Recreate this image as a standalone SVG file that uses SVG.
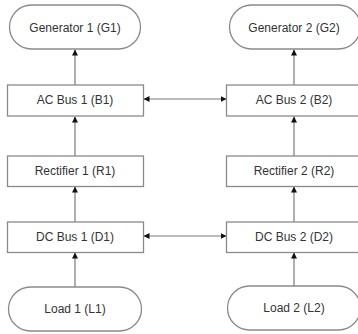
<svg xmlns="http://www.w3.org/2000/svg" width="358" height="334" viewBox="0 0 358 334">
<style>
.n{fill:#fff;stroke:#8a8a8a;stroke-width:1.3}
.t{font-family:"Liberation Sans",Arial,sans-serif;font-size:12px;fill:#333;text-anchor:middle;dominant-baseline:central}
.c{stroke:#7a7a7a;stroke-width:1.2;fill:none}
</style>
<defs>
<marker id="ah" viewBox="0 0 10 10" refX="10" refY="5" markerWidth="6" markerHeight="6" markerUnits="userSpaceOnUse" orient="auto-start-reverse">
<path d="M0,0 L10,5 L0,10 Z" fill="#111"/>
</marker>
</defs>
<rect width="358" height="334" fill="#fff"/>
<g id="connectors">
<line class="c" x1="75" y1="85" x2="75" y2="49.5" marker-end="url(#ah)"/>
<line class="c" x1="294" y1="85" x2="294" y2="49.5" marker-end="url(#ah)"/>
<line class="c" x1="75" y1="156" x2="75" y2="116.5" marker-end="url(#ah)"/>
<line class="c" x1="294" y1="156" x2="294" y2="116.5" marker-end="url(#ah)"/>
<line class="c" x1="75" y1="222" x2="75" y2="186.5" marker-end="url(#ah)"/>
<line class="c" x1="294" y1="222" x2="294" y2="186.5" marker-end="url(#ah)"/>
<line class="c" x1="75" y1="287" x2="75" y2="252.5" marker-end="url(#ah)"/>
<line class="c" x1="294" y1="286" x2="294" y2="252.5" marker-end="url(#ah)"/>
<line class="c" x1="143.5" y1="99" x2="226.5" y2="99" marker-start="url(#ah)" marker-end="url(#ah)"/>
<line class="c" x1="143.5" y1="236" x2="226.5" y2="236" marker-start="url(#ah)" marker-end="url(#ah)"/>
</g>
<g id="G1"><rect class="n" x="9.5" y="5" width="131" height="44" rx="22" ry="22"/><text class="t" x="75" y="28">Generator 1 (G1)</text></g>
<g id="G2"><rect class="n" x="229.5" y="5" width="131" height="44" rx="22" ry="22"/><text class="t" x="294" y="28">Generator 2 (G2)</text></g>
<g id="B1"><rect class="n" x="7.5" y="85" width="136" height="31"/><text class="t" x="75" y="100">AC Bus 1 (B1)</text></g>
<g id="B2"><rect class="n" x="226.5" y="85" width="136" height="31"/><text class="t" x="294" y="100">AC Bus 2 (B2)</text></g>
<g id="R1"><rect class="n" x="7.5" y="156" width="136" height="30.5"/><text class="t" x="75" y="171">Rectifier 1 (R1)</text></g>
<g id="R2"><rect class="n" x="226.5" y="156" width="136" height="30.5"/><text class="t" x="294" y="171">Rectifier 2 (R2)</text></g>
<g id="D1"><rect class="n" x="7.5" y="222" width="136" height="30.5"/><text class="t" x="75" y="237">DC Bus 1 (D1)</text></g>
<g id="D2"><rect class="n" x="226.5" y="222" width="136" height="30.5"/><text class="t" x="294" y="237">DC Bus 2 (D2)</text></g>
<g id="L1"><rect class="n" x="8.5" y="287" width="133" height="44" rx="22" ry="22"/><text class="t" x="75" y="309">Load 1 (L1)</text></g>
<g id="L2"><rect class="n" x="227.5" y="286" width="133" height="44" rx="22" ry="22"/><text class="t" x="294" y="308">Load 2 (L2)</text></g>
</svg>
